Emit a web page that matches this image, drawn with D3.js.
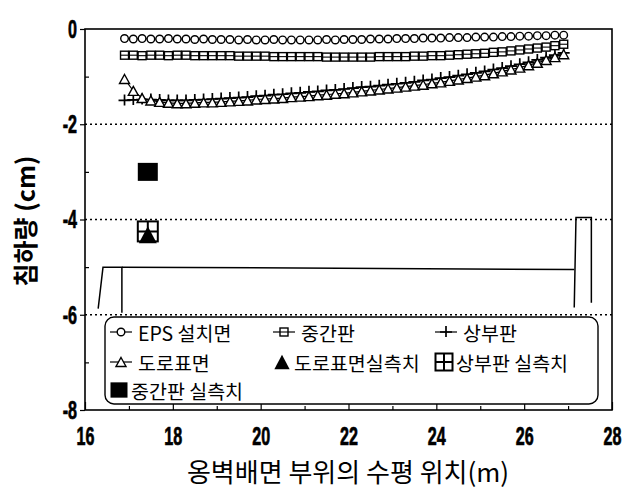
<!DOCTYPE html>
<html>
<head>
<meta charset="utf-8">
<script src="https://cdn.jsdelivr.net/npm/d3@7"></script>
<style>
  body { margin: 0; background: #fff; }
  .tick text { font-family: "Liberation Sans", Arial, sans-serif; font-weight: bold; }
  .kr { font-family: "Noto Sans CJK KR", sans-serif; }
</style>
</head>
<body>
<div id="chart-area"></div>
<script>
// measurement positions along the wall back (m)
const xPos = [16.9,17.1,17.3,17.5,17.7,17.9,18.1,18.3,18.5,18.7,18.9,
  19.1,19.3,19.5,19.7,19.9,20.1,20.3,20.5,20.7,20.9,
  21.1,21.3,21.5,21.7,21.9,22.1,22.3,22.5,22.7,22.9,
  23.1,23.3,23.5,23.7,23.9,24.1,24.3,24.5,24.7,24.9,
  25.1,25.3,25.5,25.7,25.9,26.1,26.3,26.5,26.7,26.9];

// settlement (cm)
const epsValues = [-0.20,-0.21,-0.20,-0.21,-0.21,-0.20,-0.21,-0.21,-0.22,-0.21,-0.22,
  -0.22,-0.22,-0.23,-0.22,-0.23,-0.23,-0.22,-0.23,-0.23,-0.23,
  -0.23,-0.23,-0.22,-0.23,-0.22,-0.22,-0.22,-0.21,-0.21,-0.21,
  -0.20,-0.20,-0.20,-0.19,-0.19,-0.19,-0.18,-0.18,-0.18,-0.17,
  -0.17,-0.17,-0.16,-0.16,-0.15,-0.15,-0.14,-0.14,-0.13,-0.13];
const midValues = [-0.55,-0.55,-0.56,-0.55,-0.55,-0.56,-0.55,-0.55,-0.56,-0.56,-0.56,
  -0.56,-0.56,-0.57,-0.57,-0.57,-0.57,-0.58,-0.58,-0.58,-0.58,
  -0.58,-0.58,-0.59,-0.59,-0.59,-0.59,-0.59,-0.59,-0.58,-0.58,
  -0.58,-0.58,-0.57,-0.57,-0.56,-0.56,-0.55,-0.54,-0.53,-0.52,
  -0.51,-0.49,-0.48,-0.46,-0.44,-0.42,-0.40,-0.38,-0.35,-0.32];
const topValues = [-1.50,-1.49,-1.48,-1.48,-1.49,-1.50,-1.50,-1.50,-1.49,-1.48,-1.47,
  -1.46,-1.45,-1.44,-1.43,-1.41,-1.40,-1.38,-1.37,-1.35,-1.34,
  -1.32,-1.31,-1.29,-1.28,-1.26,-1.24,-1.22,-1.21,-1.19,-1.17,
  -1.15,-1.13,-1.11,-1.08,-1.06,-1.03,-1.01,-0.98,-0.95,-0.92,
  -0.89,-0.85,-0.82,-0.78,-0.74,-0.70,-0.65,-0.60,-0.55,-0.50];
const roadValues = [-1.05,-1.30,-1.45,-1.50,-1.53,-1.55,-1.56,-1.56,-1.55,-1.54,-1.54,
  -1.53,-1.52,-1.51,-1.50,-1.48,-1.47,-1.46,-1.45,-1.43,-1.42,
  -1.41,-1.39,-1.38,-1.36,-1.35,-1.33,-1.31,-1.29,-1.27,-1.25,
  -1.23,-1.21,-1.19,-1.17,-1.14,-1.12,-1.09,-1.06,-1.03,-1.00,
  -0.97,-0.93,-0.89,-0.85,-0.81,-0.76,-0.71,-0.65,-0.59,-0.53];

// field measurements
const measX = 17.43;
const measMid = -3.0;
const measTop = -4.25;
const measRoad = -4.32;

// wall outline
const leftWallX = [16.30, 16.41, 16.84, 16.84];
const leftWallY = [-5.87, -5.0, -5.0, -5.96];
const baseX = [16.84, 27.14];
const baseY = [-5.0, -5.05];
const rightWallX = [27.14, 27.18, 27.53, 27.53];
const rightWallY = [-5.85, -3.96, -3.96, -5.75];

const xTicks = [16, 18, 20, 22, 24, 26, 28];
const xMinor = [17, 19, 21, 23, 25, 27];
const yTicks = [0, -2, -4, -6, -8];
const yMinor = [-1, -3, -5, -7];
const gridValues = [-2, -4, -6];

const legendLabels = ["EPS 설치면", "중간판", "상부판", "도로표면", "도로표면실측치", "상부판 실측치", "중간판 실측치"];
const legendKinds = ["circle", "square", "plus", "triangle", "measRoad", "measTop", "measMid"];

const W = 637, H = 493;
const svg = d3.select("#chart-area").append("svg").attr("width", W).attr("height", H);

const x = d3.scaleLinear().domain([16, 28]).range([85, 612]);
const y = d3.scaleLinear().domain([-8, 0]).range([410, 29]);

// dotted grid
svg.selectAll(".grid").data(gridValues).enter().append("line")
    .attr("class", "grid")
    .attr("x1", x(16)).attr("x2", x(28))
    .attr("y1", d => y(d)).attr("y2", d => y(d))
    .attr("stroke", "#000").attr("stroke-width", 1.3).attr("stroke-dasharray", "2,3");

// axes
const NARROW = 0.62;
const xAxisGroup = svg.append("g").attr("transform", `translate(0,${y(-8)})`)
    .call(d3.axisBottom(x).tickValues(xTicks).tickFormat(d => String(d)).tickSizeInner(-8).tickSizeOuter(0).tickPadding(17));
svg.append("g").attr("transform", `translate(0,${y(-8)})`)
    .call(d3.axisBottom(x).tickValues(xMinor).tickFormat("").tickSizeInner(-4).tickSizeOuter(0));
const yAxisGroup = svg.append("g").attr("transform", `translate(${x(16)},0)`)
    .call(d3.axisLeft(y).tickValues(yTicks).tickFormat(d => String(d)).tickSizeInner(5).tickSizeOuter(0).tickPadding(3));
svg.append("g").attr("transform", `translate(${x(16)},0)`)
    .call(d3.axisLeft(y).tickValues(yMinor).tickFormat("").tickSizeInner(-4).tickSizeOuter(0));
svg.selectAll(".domain").remove();
svg.selectAll(".tick line").attr("stroke", "#000").attr("stroke-width", 1.2);
svg.selectAll(".tick text").attr("font-size", 26).attr("fill", "#000")
    .attr("stroke", "#000").attr("stroke-width", 0.7)
    .attr("transform", `scale(${NARROW},1)`);
yAxisGroup.selectAll(".tick text").attr("x", -8 / NARROW);

// frame
svg.append("rect").attr("x", x(16)).attr("y", y(0))
    .attr("width", x(28) - x(16)).attr("height", y(-8) - y(0))
    .attr("fill", "none").attr("stroke", "#000").attr("stroke-width", 1.6);

// wall outline
const line = d3.line().x(d => x(d[0])).y(d => y(d[1]));
[[leftWallX, leftWallY], [baseX, baseY], [rightWallX, rightWallY]].forEach(([xs, ys]) => {
    svg.append("path").attr("d", line(xs.map((v, i) => [v, ys[i]])))
        .attr("fill", "none").attr("stroke", "#000").attr("stroke-width", 1.5);
});

// marker drawing
function marker(g, kind, cx, cy, s) {
    if (kind === "circle") {
        g.append("circle").attr("cx", cx).attr("cy", cy).attr("r", 3.8 * s)
            .attr("fill", "#fff").attr("stroke", "#000").attr("stroke-width", 1.4);
    } else if (kind === "square") {
        g.append("rect").attr("x", cx - 4 * s).attr("y", cy - 4 * s).attr("width", 8 * s).attr("height", 8 * s)
            .attr("fill", "#fff").attr("stroke", "#000").attr("stroke-width", 1.4);
        g.append("line").attr("x1", cx - 4 * s).attr("x2", cx + 4 * s).attr("y1", cy).attr("y2", cy)
            .attr("stroke", "#000").attr("stroke-width", 1.1);
    } else if (kind === "triangle") {
        const h = 9 * s, w = 10 * s;
        g.append("path").attr("d", `M${cx},${cy - h / 2}L${cx + w / 2},${cy + h / 2}L${cx - w / 2},${cy + h / 2}Z`)
            .attr("fill", "#fff").attr("stroke", "#000").attr("stroke-width", 1.4);
    } else if (kind === "plus") {
        g.append("path").attr("d", `M${cx - 6 * s},${cy}H${cx + 6 * s}M${cx},${cy - 6 * s}V${cy + 5 * s}`)
            .attr("stroke", "#000").attr("stroke-width", 1.7).attr("fill", "none");
    } else if (kind === "measMid") {
        g.append("rect").attr("x", cx - 10 * s).attr("y", cy - 9 * s).attr("width", 20 * s).attr("height", 18 * s)
            .attr("fill", "#000");
    } else if (kind === "measTop") {
        const r = 10 * s;
        g.append("rect").attr("x", cx - r).attr("y", cy - r).attr("width", 2 * r).attr("height", 2 * r)
            .attr("fill", "#fff").attr("stroke", "#000").attr("stroke-width", 2);
        g.append("path").attr("d", `M${cx - r},${cy}H${cx + r}M${cx},${cy - r}V${cy + r}`)
            .attr("stroke", "#000").attr("stroke-width", 2);
    } else if (kind === "measRoad") {
        const h = 17 * s, w = 18 * s;
        g.append("path").attr("d", `M${cx},${cy - h / 2}L${cx + w / 2},${cy + h / 2}L${cx - w / 2},${cy + h / 2}Z`)
            .attr("fill", "#000");
    }
}

// calculated series
const series = [
    { kind: "plus", values: topValues },
    { kind: "triangle", values: roadValues },
    { kind: "square", values: midValues },
    { kind: "circle", values: epsValues }
];
series.forEach(sr => {
    const pts = xPos.map((v, i) => [v, sr.values[i]]);
    const g = svg.append("g");
    g.append("path").attr("d", line(pts)).attr("fill", "none").attr("stroke", "#000").attr("stroke-width", 1.2);
    pts.forEach(p => marker(g, sr.kind, x(p[0]), y(p[1]), 1));
});

// measured points
const mg = svg.append("g");
marker(mg, "measMid", x(measX), y(measMid), 1);
marker(mg, "measTop", x(measX), y(measTop), 1);
marker(mg, "measRoad", x(measX), y(measRoad), 1);

// legend
svg.append("rect").attr("x", 105).attr("y", 317).attr("width", 493).attr("height", 87).attr("rx", 9)
    .attr("fill", "#fff").attr("stroke", "#000").attr("stroke-width", 1.4);
const colX = [110, 273, 435];
const rowY = [332, 362, 390];
legendLabels.forEach((label, i) => {
    const lx = colX[i % 3], ly = rowY[Math.floor(i / 3)];
    const kind = legendKinds[i];
    const g = svg.append("g");
    let tx;
    if (kind.startsWith("meas")) {
        marker(g, kind, lx + 9, ly, 0.85);
        tx = lx + 21;
    } else {
        g.append("line").attr("x1", lx).attr("x2", lx + 22).attr("y1", ly).attr("y2", ly)
            .attr("stroke", "#000").attr("stroke-width", 1.2);
        marker(g, kind, lx + 11, ly, 1);
        tx = lx + 28;
    }
    g.append("text").attr("class", "kr").attr("x", tx).attr("y", ly)
        .attr("dominant-baseline", "central").attr("font-size", 19.5).text(label);
});

// axis titles
svg.append("text").attr("class", "kr").attr("x", 348).attr("y", 482)
    .attr("text-anchor", "middle").attr("font-size", 26).text("옹벽배면 부위의 수평 위치(m)");
svg.append("text").attr("class", "kr")
    .attr("transform", "translate(35,221) rotate(-90)")
    .attr("text-anchor", "middle").attr("font-size", 25).attr("font-weight", "bold").text("침하량 (cm)");
</script>
</body>
</html>
